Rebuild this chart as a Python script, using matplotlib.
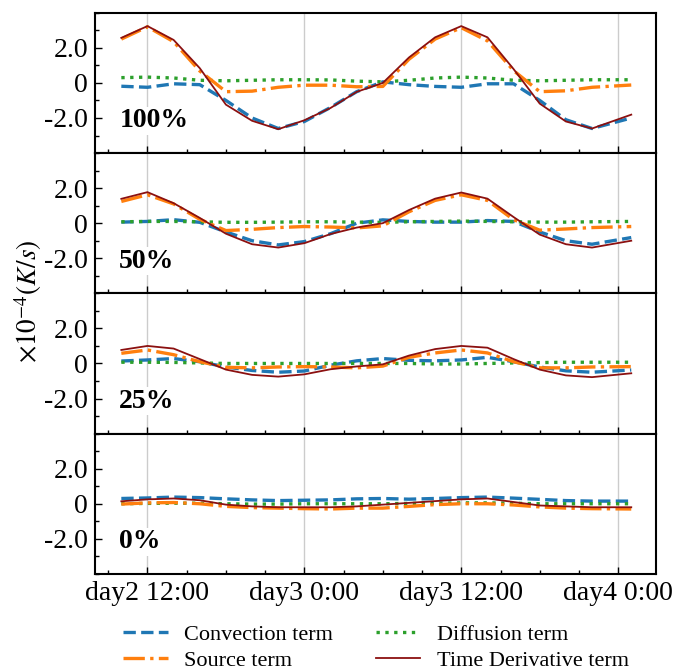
import numpy as np
import matplotlib
matplotlib.use("Agg")
import matplotlib.pyplot as plt
from matplotlib.ticker import MultipleLocator

plt.rcParams["font.family"] = ["Liberation Serif", "DejaVu Serif"]
plt.rcParams["mathtext.fontset"] = "stix"
plt.rcParams["axes.unicode_minus"] = False

# hours relative to day2 12:00
hours = [-2, 0, 2, 4, 6, 8, 10, 12, 14, 16, 18, 20, 22, 24, 26, 28, 30, 32, 34, 37]

# 100 %
conv_100 = [-0.19, -0.25, -0.05, -0.1, -1.0, -2.0, -2.6, -2.2, -1.4, -0.5,
            0.06, -0.1, -0.2, -0.25, -0.05, -0.05, -1.0, -2.1, -2.6, -2.0]
diff_100 = [0.3, 0.33, 0.28, 0.15, 0.12, 0.15, 0.18, 0.18, 0.17, 0.1,
            0.06, 0.15, 0.28, 0.33, 0.28, 0.15, 0.12, 0.15, 0.18, 0.18]
src_100 = [2.5, 3.2, 2.35, 0.68, -0.5, -0.47, -0.25, -0.13, -0.13, -0.22,
           -0.2, 1.35, 2.5, 3.15, 2.4, 0.7, -0.5, -0.45, -0.25, -0.12]
tdt_100 = [2.57, 3.24, 2.45, 0.84, -1.24, -2.16, -2.64, -2.13, -1.43, -0.51,
           0.0, 1.45, 2.6, 3.24, 2.6, 0.79, -1.18, -2.2, -2.6, -1.81]

# 50 %
conv_50 = [0.06, 0.1, 0.2, 0.05, -0.5, -1.0, -1.24, -1.05, -0.6, 0.0,
           0.19, 0.1, 0.06, 0.06, 0.15, 0.1, -0.5, -1.0, -1.2, -0.82]
diff_50 = [0.08, 0.1, 0.1, 0.08, 0.05, 0.05, 0.06, 0.08, 0.08, 0.06,
           0.05, 0.08, 0.1, 0.12, 0.1, 0.08, 0.06, 0.06, 0.08, 0.1]
src_50 = [1.24, 1.62, 1.1, 0.22, -0.42, -0.35, -0.25, -0.19, -0.22, -0.27,
          -0.15, 0.65, 1.3, 1.62, 1.3, 0.2, -0.4, -0.33, -0.25, -0.19]
tdt_50 = [1.39, 1.77, 1.14, 0.3, -0.6, -1.2, -1.39, -1.14, -0.62, -0.25,
          0.0, 0.75, 1.4, 1.75, 1.4, 0.35, -0.65, -1.2, -1.39, -1.0]

# 25 %
conv_25 = [0.14, 0.2, 0.28, 0.1, -0.2, -0.4, -0.5, -0.43, -0.1, 0.15,
           0.28, 0.18, 0.15, 0.2, 0.35, 0.1, -0.2, -0.42, -0.5, -0.37]
diff_25 = [0.07, 0.07, 0.06, 0.03, 0.0, 0.0, 0.0, 0.0, 0.0, 0.0,
           0.0, 0.0, -0.03, -0.03, 0.0, 0.03, 0.05, 0.07, 0.07, 0.07]
src_25 = [0.58, 0.77, 0.5, 0.1, -0.22, -0.25, -0.2, -0.18, -0.2, -0.25,
          -0.15, 0.35, 0.6, 0.77, 0.6, 0.1, -0.25, -0.25, -0.2, -0.18]
tdt_25 = [0.77, 1.0, 0.85, 0.25, -0.35, -0.65, -0.75, -0.62, -0.33, -0.17,
          -0.05, 0.45, 0.82, 1.0, 0.9, 0.25, -0.35, -0.68, -0.78, -0.56]

# 0 %
conv_0 = [0.3, 0.33, 0.38, 0.35, 0.28, 0.22, 0.18, 0.2, 0.22, 0.28,
          0.3, 0.26, 0.3, 0.35, 0.38, 0.32, 0.25, 0.18, 0.15, 0.15]
diff_0 = [0.0, 0.02, 0.03, 0.03, 0.0, -0.02, -0.02, 0.0, 0.0, 0.0,
          0.0, 0.02, 0.03, 0.05, 0.05, 0.03, 0.0, 0.0, 0.0, 0.0]
src_0 = [-0.02, 0.05, 0.07, 0.0, -0.15, -0.22, -0.25, -0.28, -0.3, -0.25,
         -0.25, -0.15, -0.05, 0.0, 0.0, -0.07, -0.18, -0.25, -0.28, -0.3]
tdt_0 = [0.14, 0.25, 0.3, 0.2, -0.05, -0.15, -0.2, -0.2, -0.2, -0.15,
         -0.05, 0.05, 0.15, 0.25, 0.3, 0.1, -0.1, -0.15, -0.2, -0.2]

panel_names = ["100%", "50%", "25%", "0%"]
panels = [
    (conv_100, diff_100, src_100, tdt_100),
    (conv_50, diff_50, src_50, tdt_50),
    (conv_25, diff_25, src_25, tdt_25),
    (conv_0, diff_0, src_0, tdt_0),
]

xtick_pos = [0, 12, 24, 36]
xtick_labels = ["day2 12:00", "day3 0:00", "day3 12:00", "day4 0:00"]
ytick_pos = [-2, 0, 2]
ytick_labels = ["-2.0", "0", "2.0"]

fig, axes = plt.subplots(4, 1, figsize=(6.75, 6.72), dpi=100, sharex=True)
fig.subplots_adjust(left=0.141, right=0.972, top=0.981, bottom=0.146, hspace=0)

for ax, name, (conv, diff, src, tdt) in zip(axes, panel_names, panels):
    for xv in xtick_pos:
        ax.axvline(xv, color="#cccccc", lw=1.0, zorder=0)
    l_conv, = ax.plot(hours, conv, color="#1f77b4", ls="--", lw=2.4,
                      label="Convection term")
    l_diff, = ax.plot(hours, diff, color="#2ca02c", ls=":", lw=2.4,
                      label="Diffusion term")
    l_src, = ax.plot(hours, src, color="#ff7f0e", ls="-.", lw=2.4,
                     label="Source term")
    l_tdt, = ax.plot(hours, tdt, color="#8b1010", ls="-", lw=1.3,
                     label="Time Derivative term")
    ax.set_ylim(-4, 4)
    ax.set_xlim(-4, 38.9)
    ax.set_yticks(ytick_pos)
    ax.set_yticklabels(ytick_labels)
    ax.yaxis.set_minor_locator(MultipleLocator(1))
    ax.xaxis.set_minor_locator(MultipleLocator(3))
    ax.tick_params(axis="both", which="both", direction="in", labelsize=20,
                   pad=5, width=1.0)
    ax.tick_params(which="major", length=5)
    ax.tick_params(which="minor", length=3)
    for sp in ax.spines.values():
        sp.set_linewidth(1.5)
    ax.text(0.043, 0.23, name, transform=ax.transAxes, fontsize=20,
            fontweight="bold", ha="left", va="center",
            bbox=dict(facecolor="white", edgecolor="none", pad=1))

axes[-1].set_xticks(xtick_pos)
axes[-1].set_xticklabels(xtick_labels)

fig.text(0.042, 0.552, r"$\times10^{-4}(K/s)$", rotation=90, fontsize=19.5,
         ha="center", va="center")

fig.legend([l_conv, l_src, l_diff, l_tdt],
           ["Convection term", "Source term", "Diffusion term",
            "Time Derivative term"],
           loc="center", bbox_to_anchor=(0.557, 0.036), ncol=2, frameon=False,
           fontsize=16, handlelength=2.0, handletextpad=0.75, columnspacing=1.9,
           labelspacing=0.25)

fig.savefig("out.png", dpi=100)
